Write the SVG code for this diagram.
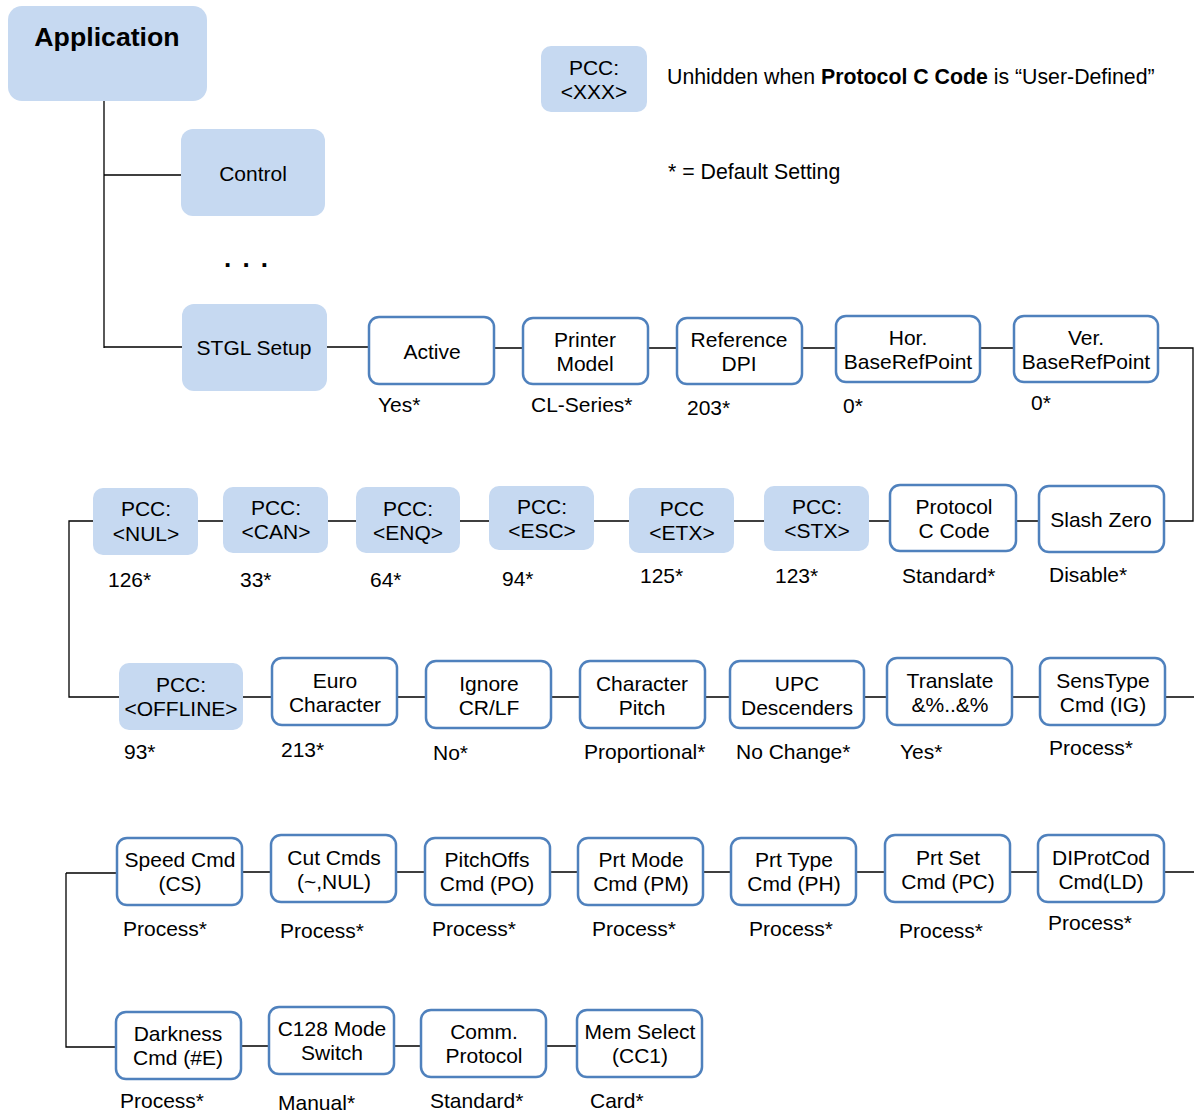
<svg xmlns="http://www.w3.org/2000/svg" width="1194" height="1114" viewBox="0 0 1194 1114">
<style>
text{font-family:"Liberation Sans",Arial,sans-serif;font-size:21px;fill:#000}
.c{text-anchor:middle}
.w{fill:#fff;stroke:#4F81BD;stroke-width:2.5}
.f{fill:#C6D9F1;stroke:none}
.ln{fill:none;stroke:#000;stroke-width:1.3}
</style>
<rect width="1194" height="1114" fill="#fff"/>
<g id="connectors">
<path class="ln" d="M104 90V348M104 175H181M104 347H182M327 347H369"/>
<path class="ln" d="M494 348H523M648 348H677M802 348H836M980 348H1014M1158 348H1193V521H1164"/>
<path class="ln" d="M1039 521H1016M890 521H869M764 521H734M629 521H594M489 521H460M356 521H328M223 521H198M93 521H69V697H119"/>
<path class="ln" d="M243 697H272M397 697H426M551 697H580M705 697H730M864 697H887M1012 697H1040M1165 697H1194"/>
<path class="ln" d="M66 873H117M66 873V1047H116M242 872H271M396 872H425M550 872H578M703 872H731M856 872H885M1010 872H1038M1164 872H1194"/>
<path class="ln" d="M241 1046H269M394 1046H421M546 1046H577"/>
</g>
<g id="application"><rect class="f" x="8" y="6" width="199" height="95" rx="14"/><text class="c" x="107" y="46" style="font-weight:bold;font-size:26.7px">Application</text></g>
<g id="control"><rect class="f" x="181" y="129" width="144" height="87" rx="12"/><text class="c" x="253" y="181">Control</text></g>
<text id="ellipsis" class="c" x="247" y="267" style="font-weight:bold;font-size:26px;letter-spacing:2px">. . .</text>
<g id="stgl"><rect class="f" x="182" y="304" width="145" height="87" rx="12"/><text class="c" x="254" y="355">STGL Setup</text></g>

<g id="legend-pcc"><rect class="f" x="541" y="46" width="106" height="66" rx="10"/><text class="c" x="594" y="75">PCC:</text><text class="c" x="594" y="99">&lt;XXX&gt;</text></g>
<text id="legend1" x="667" y="84" style="font-size:21.3px">Unhidden when <tspan font-weight="bold">Protocol C Code</tspan> is “User-Defined”</text>
<text id="legend2" x="668" y="179" style="font-size:21.3px">* = Default Setting</text>

<g id="active"><rect class="w" x="369" y="317" width="125" height="67" rx="10"/><text class="c" x="432" y="359">Active</text><text x="378" y="412">Yes*</text></g>
<g id="printer-model"><rect class="w" x="523" y="318" width="125" height="66" rx="10"/><text class="c" x="585" y="347">Printer</text><text class="c" x="585" y="371">Model</text><text x="531" y="412">CL-Series*</text></g>
<g id="reference-dpi"><rect class="w" x="677" y="318" width="125" height="66" rx="10"/><text class="c" x="739" y="347">Reference</text><text class="c" x="739" y="371">DPI</text><text x="687" y="415">203*</text></g>
<g id="hor"><rect class="w" x="836" y="316" width="144" height="66" rx="10"/><text class="c" x="908" y="345">Hor.</text><text class="c" x="908" y="369">BaseRefPoint</text><text x="843" y="413">0*</text></g>
<g id="ver"><rect class="w" x="1014" y="316" width="144" height="66" rx="10"/><text class="c" x="1086" y="345">Ver.</text><text class="c" x="1086" y="369">BaseRefPoint</text><text x="1031" y="410">0*</text></g>

<g id="slash-zero"><rect class="w" x="1039" y="486" width="125" height="66" rx="10"/><text class="c" x="1101" y="527">Slash Zero</text><text x="1049" y="582">Disable*</text></g>
<g id="protocol-c-code"><rect class="w" x="890" y="485" width="126" height="66" rx="10"/><text class="c" x="954" y="514">Protocol</text><text class="c" x="954" y="538">C Code</text><text x="902" y="583">Standard*</text></g>
<g id="pcc-stx"><rect class="f" x="764" y="486" width="105" height="65" rx="10"/><text class="c" x="817" y="514">PCC:</text><text class="c" x="817" y="538">&lt;STX&gt;</text><text x="775" y="583">123*</text></g>
<g id="pcc-etx"><rect class="f" x="629" y="488" width="105" height="65" rx="10"/><text class="c" x="682" y="516">PCC</text><text class="c" x="682" y="540">&lt;ETX&gt;</text><text x="640" y="583">125*</text></g>
<g id="pcc-esc"><rect class="f" x="489" y="486" width="105" height="64" rx="10"/><text class="c" x="542" y="514">PCC:</text><text class="c" x="542" y="538">&lt;ESC&gt;</text><text x="502" y="586">94*</text></g>
<g id="pcc-enq"><rect class="f" x="356" y="487" width="104" height="66" rx="10"/><text class="c" x="408" y="516">PCC:</text><text class="c" x="408" y="540">&lt;ENQ&gt;</text><text x="370" y="587">64*</text></g>
<g id="pcc-can"><rect class="f" x="223" y="487" width="105" height="66" rx="10"/><text class="c" x="276" y="515">PCC:</text><text class="c" x="276" y="539">&lt;CAN&gt;</text><text x="240" y="587">33*</text></g>
<g id="pcc-nul"><rect class="f" x="93" y="488" width="105" height="67" rx="10"/><text class="c" x="146" y="516">PCC:</text><text class="c" x="146" y="541">&lt;NUL&gt;</text><text x="108" y="587">126*</text></g>

<g id="pcc-offline"><rect class="f" x="119" y="663" width="124" height="67" rx="10"/><text class="c" x="181" y="692">PCC:</text><text class="c" x="181" y="716">&lt;OFFLINE&gt;</text><text x="124" y="759">93*</text></g>
<g id="euro"><rect class="w" x="272" y="658" width="125" height="67" rx="10"/><text class="c" x="335" y="688">Euro</text><text class="c" x="335" y="712">Character</text><text x="281" y="757">213*</text></g>
<g id="ignore"><rect class="w" x="426" y="661" width="125" height="67" rx="10"/><text class="c" x="489" y="691">Ignore</text><text class="c" x="489" y="715">CR/LF</text><text x="433" y="760">No*</text></g>
<g id="char-pitch"><rect class="w" x="580" y="661" width="125" height="67" rx="10"/><text class="c" x="642" y="691">Character</text><text class="c" x="642" y="715">Pitch</text><text x="584" y="759">Proportional*</text></g>
<g id="upc"><rect class="w" x="730" y="661" width="134" height="67" rx="10"/><text class="c" x="797" y="691">UPC</text><text class="c" x="797" y="715">Descenders</text><text x="736" y="759">No Change*</text></g>
<g id="translate"><rect class="w" x="887" y="658" width="125" height="67" rx="10"/><text class="c" x="950" y="688">Translate</text><text class="c" x="950" y="712">&amp;%..&amp;%</text><text x="900" y="759">Yes*</text></g>
<g id="senstype"><rect class="w" x="1040" y="658" width="125" height="67" rx="10"/><text class="c" x="1103" y="688">SensType</text><text class="c" x="1103" y="712">Cmd (IG)</text><text x="1049" y="755">Process*</text></g>

<g id="speed"><rect class="w" x="117" y="838" width="125" height="67" rx="10"/><text class="c" x="180" y="867">Speed Cmd</text><text class="c" x="180" y="891">(CS)</text><text x="123" y="936">Process*</text></g>
<g id="cut"><rect class="w" x="271" y="835" width="125" height="67" rx="10"/><text class="c" x="334" y="865">Cut Cmds</text><text class="c" x="334" y="889">(~,NUL)</text><text x="280" y="938">Process*</text></g>
<g id="pitchoffs"><rect class="w" x="425" y="838" width="125" height="67" rx="10"/><text class="c" x="487" y="867">PitchOffs</text><text class="c" x="487" y="891">Cmd (PO)</text><text x="432" y="936">Process*</text></g>
<g id="prtmode"><rect class="w" x="578" y="838" width="125" height="67" rx="10"/><text class="c" x="641" y="867">Prt Mode</text><text class="c" x="641" y="891">Cmd (PM)</text><text x="592" y="936">Process*</text></g>
<g id="prttype"><rect class="w" x="731" y="838" width="125" height="67" rx="10"/><text class="c" x="794" y="867">Prt Type</text><text class="c" x="794" y="891">Cmd (PH)</text><text x="749" y="936">Process*</text></g>
<g id="prtset"><rect class="w" x="885" y="835" width="125" height="67" rx="10"/><text class="c" x="948" y="865">Prt Set</text><text class="c" x="948" y="889">Cmd (PC)</text><text x="899" y="938">Process*</text></g>
<g id="diprotcod"><rect class="w" x="1038" y="835" width="126" height="67" rx="10"/><text class="c" x="1101" y="865">DIProtCod</text><text class="c" x="1101" y="889">Cmd(LD)</text><text x="1048" y="930">Process*</text></g>

<g id="darkness"><rect class="w" x="116" y="1012" width="125" height="67" rx="10"/><text class="c" x="178" y="1041">Darkness</text><text class="c" x="178" y="1065">Cmd (#E)</text><text x="120" y="1108">Process*</text></g>
<g id="c128"><rect class="w" x="269" y="1007" width="125" height="67" rx="10"/><text class="c" x="332" y="1036">C128 Mode</text><text class="c" x="332" y="1060">Switch</text><text x="278" y="1110">Manual*</text></g>
<g id="comm"><rect class="w" x="421" y="1010" width="125" height="67" rx="10"/><text class="c" x="484" y="1039">Comm.</text><text class="c" x="484" y="1063">Protocol</text><text x="430" y="1108">Standard*</text></g>
<g id="memselect"><rect class="w" x="577" y="1010" width="125" height="67" rx="10"/><text class="c" x="640" y="1039">Mem Select</text><text class="c" x="640" y="1063">(CC1)</text><text x="590" y="1108">Card*</text></g>
</svg>
